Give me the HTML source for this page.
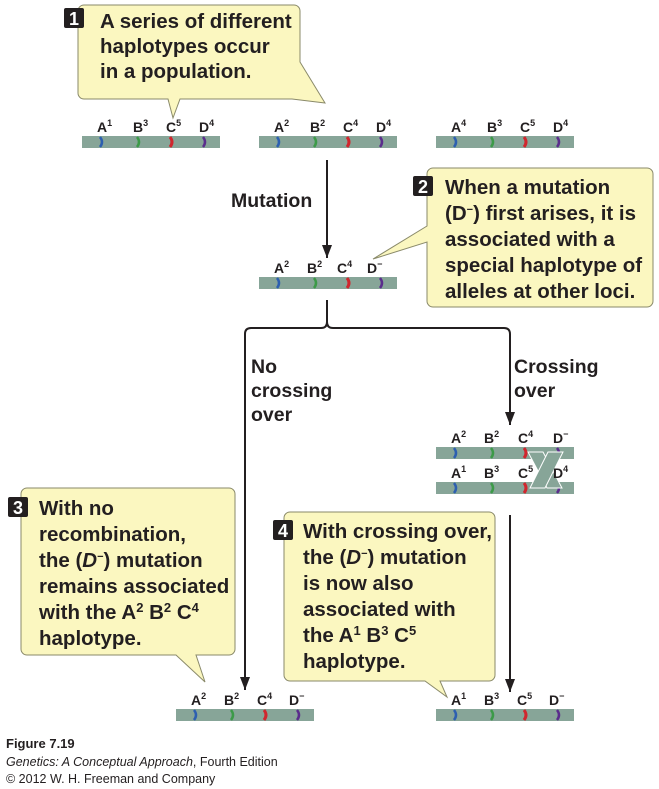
<!DOCTYPE html>
<html><head><meta charset="utf-8"><style>
body{margin:0;background:#fff;}
svg{display:block;font-family:"Liberation Sans",sans-serif;}
.t{font-weight:bold;font-size:20.5px;fill:#231f20;}
.m{font-weight:bold;font-size:19.5px;fill:#231f20;}
.l{font-weight:bold;font-size:14px;fill:#231f20;}
.s{font-size:9px;}
</style></head><body>
<svg width="659" height="789" viewBox="0 0 659 789" xmlns="http://www.w3.org/2000/svg">
<defs>
<g id="chr">
<rect x="0" y="0" width="138" height="12" fill="#87a598"/>
<path d="M18 1 q4 5 0 10" stroke="#2d5fb0" stroke-width="2.5" fill="none"/>
<path d="M55 1 q4 5 0 10" stroke="#3c9a48" stroke-width="2.5" fill="none"/>
<path d="M88 1 q4 5 0 10" stroke="#d0262e" stroke-width="3" fill="none"/>
<path d="M121 1 q4 5 0 10" stroke="#5a2d8c" stroke-width="2.5" fill="none"/>
</g>
<marker id="ah" markerWidth="14" markerHeight="12" refX="13" refY="5" orient="auto" markerUnits="userSpaceOnUse"><path d="M0 0 L13 5 L0 10 Z" fill="#231f20"/></marker>
</defs>

<!-- Box 1 -->
<path d="M84 5 H294 a6 6 0 0 1 6 6 V62 L325 103 L292 99 H180 L173 118 L168 99 H84 a6 6 0 0 1 -6 -6 V11 a6 6 0 0 1 6 -6 Z" fill="#fbf7c0" stroke="#8a8a6a" stroke-width="1"/>
<rect x="64" y="8" width="20" height="20" rx="2" fill="#231f20"/>
<text x="74" y="25" text-anchor="middle" fill="#fff" font-weight="bold" font-size="18">1</text>
<text class="t" x="100" y="28">A series of different</text>
<text class="t" x="100" y="53">haplotypes occur</text>
<text class="t" x="100" y="78">in a population.</text>

<!-- Row 1 chromosomes -->
<use href="#chr" x="82" y="136"/>
<g class="l"><text x="97" y="132">A<tspan class="s" dy="-6">1</tspan></text><text x="133" y="132">B<tspan class="s" dy="-6">3</tspan></text><text x="166" y="132">C<tspan class="s" dy="-6">5</tspan></text><text x="199" y="132">D<tspan class="s" dy="-6">4</tspan></text></g>
<use href="#chr" x="259" y="136"/>
<g class="l"><text x="274" y="132">A<tspan class="s" dy="-6">2</tspan></text><text x="310" y="132">B<tspan class="s" dy="-6">2</tspan></text><text x="343" y="132">C<tspan class="s" dy="-6">4</tspan></text><text x="376" y="132">D<tspan class="s" dy="-6">4</tspan></text></g>
<use href="#chr" x="436" y="136"/>
<g class="l"><text x="451" y="132">A<tspan class="s" dy="-6">4</tspan></text><text x="487" y="132">B<tspan class="s" dy="-6">3</tspan></text><text x="520" y="132">C<tspan class="s" dy="-6">5</tspan></text><text x="553" y="132">D<tspan class="s" dy="-6">4</tspan></text></g>

<!-- Mutation arrow -->
<line x1="327" y1="160" x2="327" y2="258" stroke="#231f20" stroke-width="2" marker-end="url(#ah)"/>
<text class="m" x="231" y="207">Mutation</text>

<!-- Box 2 -->
<path d="M433 168 H647 a6 6 0 0 1 6 6 V301 a6 6 0 0 1 -6 6 H433 a6 6 0 0 1 -6 -6 V242 L373 259 L427 226 V174 a6 6 0 0 1 6 -6 Z" fill="#fbf7c0" stroke="#8a8a6a" stroke-width="1"/>
<rect x="413" y="176" width="20" height="20" rx="2" fill="#231f20"/>
<text x="423" y="193" text-anchor="middle" fill="#fff" font-weight="bold" font-size="18">2</text>
<text class="t" x="445" y="194">When a mutation</text>
<text class="t" x="445" y="220">(D<tspan font-size="11" dy="-7">−</tspan><tspan dy="7">) first arises, it is</tspan></text>
<text class="t" x="445" y="246">associated with a</text>
<text class="t" x="445" y="272">special haplotype of</text>
<text class="t" x="445" y="298">alleles at other loci.</text>

<!-- middle chromosome -->
<use href="#chr" x="259" y="277"/>
<g class="l"><text x="274" y="273">A<tspan class="s" dy="-6">2</tspan></text><text x="307" y="273">B<tspan class="s" dy="-6">2</tspan></text><text x="337" y="273">C<tspan class="s" dy="-6">4</tspan></text><text x="367" y="273">D<tspan class="s" dy="-6">−</tspan></text></g>

<!-- branch -->
<path d="M327 300 V322 Q327 328 321 328 H251 Q245 328 245 334 V690" fill="none" stroke="#231f20" stroke-width="2" marker-end="url(#ah)"/>
<path d="M327 322 Q327 328 333 328 H504 Q510 328 510 334 V425" fill="none" stroke="#231f20" stroke-width="2" marker-end="url(#ah)"/>
<text class="m" x="251" y="373">No</text>
<text class="m" x="251" y="397">crossing</text>
<text class="m" x="251" y="421">over</text>
<text class="m" x="514" y="373">Crossing</text>
<text class="m" x="514" y="397">over</text>

<!-- crossing chromosomes -->
<use href="#chr" x="436" y="447"/>
<use href="#chr" x="436" y="482"/>
<path d="M528 452 L543 452 L562 488 L547 488 Z" fill="#87a598" stroke="#fff" stroke-width="1"/>
<path d="M548 452 L563 452 L545 488 L530 488 Z" fill="#87a598" stroke="#fff" stroke-width="1"/>
<g class="l"><text x="451" y="443">A<tspan class="s" dy="-6">2</tspan></text><text x="484" y="443">B<tspan class="s" dy="-6">2</tspan></text><text x="518" y="443">C<tspan class="s" dy="-6">4</tspan></text><text x="553" y="443">D<tspan class="s" dy="-6">−</tspan></text></g>
<g class="l"><text x="451" y="478">A<tspan class="s" dy="-6">1</tspan></text><text x="484" y="478">B<tspan class="s" dy="-6">3</tspan></text><text x="518" y="478">C<tspan class="s" dy="-6">5</tspan></text><text x="553" y="478">D<tspan class="s" dy="-6">4</tspan></text></g>

<!-- right arrow down -->
<line x1="510" y1="515" x2="510" y2="692" stroke="#231f20" stroke-width="2" marker-end="url(#ah)"/>

<!-- Box 3 -->
<path d="M27 488 H229 a6 6 0 0 1 6 6 V649 a6 6 0 0 1 -6 6 H196 L205 682 L176 655 H27 a6 6 0 0 1 -6 -6 V494 a6 6 0 0 1 6 -6 Z" fill="#fbf7c0" stroke="#8a8a6a" stroke-width="1"/>
<rect x="8" y="497" width="20" height="20" rx="2" fill="#231f20"/>
<text x="18" y="514" text-anchor="middle" fill="#fff" font-weight="bold" font-size="18">3</text>
<text class="t" x="39" y="515">With no</text>
<text class="t" x="39" y="541">recombination,</text>
<text class="t" x="39" y="567">the (<tspan font-style="italic">D</tspan><tspan font-size="11" dy="-7">−</tspan><tspan dy="7">) mutation</tspan></text>
<text class="t" x="39" y="593">remains associated</text>
<text class="t" x="39" y="619">with the A<tspan font-size="13" dy="-7">2</tspan><tspan dy="7"> B</tspan><tspan font-size="13" dy="-7">2</tspan><tspan dy="7"> C</tspan><tspan font-size="13" dy="-7">4</tspan></text>
<text class="t" x="39" y="645">haplotype.</text>

<!-- Box 4 -->
<path d="M290 512 H489 a6 6 0 0 1 6 6 V675 a6 6 0 0 1 -6 6 H440 L447 697 L425 681 H290 a6 6 0 0 1 -6 -6 V518 a6 6 0 0 1 6 -6 Z" fill="#fbf7c0" stroke="#8a8a6a" stroke-width="1"/>
<rect x="273" y="520" width="20" height="20" rx="2" fill="#231f20"/>
<text x="283" y="537" text-anchor="middle" fill="#fff" font-weight="bold" font-size="18">4</text>
<text class="t" x="303" y="538">With crossing over,</text>
<text class="t" x="303" y="564">the (<tspan font-style="italic">D</tspan><tspan font-size="11" dy="-7">−</tspan><tspan dy="7">) mutation</tspan></text>
<text class="t" x="303" y="590">is now also</text>
<text class="t" x="303" y="616">associated with</text>
<text class="t" x="303" y="642">the A<tspan font-size="13" dy="-7">1</tspan><tspan dy="7"> B</tspan><tspan font-size="13" dy="-7">3</tspan><tspan dy="7"> C</tspan><tspan font-size="13" dy="-7">5</tspan></text>
<text class="t" x="303" y="668">haplotype.</text>

<!-- bottom chromosomes -->
<use href="#chr" x="176" y="709"/>
<g class="l"><text x="191" y="705">A<tspan class="s" dy="-6">2</tspan></text><text x="224" y="705">B<tspan class="s" dy="-6">2</tspan></text><text x="257" y="705">C<tspan class="s" dy="-6">4</tspan></text><text x="289" y="705">D<tspan class="s" dy="-6">−</tspan></text></g>
<use href="#chr" x="436" y="709"/>
<g class="l"><text x="451" y="705">A<tspan class="s" dy="-6">1</tspan></text><text x="484" y="705">B<tspan class="s" dy="-6">3</tspan></text><text x="517" y="705">C<tspan class="s" dy="-6">5</tspan></text><text x="549" y="705">D<tspan class="s" dy="-6">−</tspan></text></g>

<!-- caption -->
<text x="6" y="748" font-weight="bold" font-size="13" fill="#231f20">Figure 7.19</text>
<text x="6" y="766" font-size="12.5" fill="#231f20"><tspan font-style="italic">Genetics: A Conceptual Approach</tspan>, Fourth Edition</text>
<text x="6" y="783" font-size="12.5" fill="#231f20">© 2012 W. H. Freeman and Company</text>
</svg>
</body></html>
